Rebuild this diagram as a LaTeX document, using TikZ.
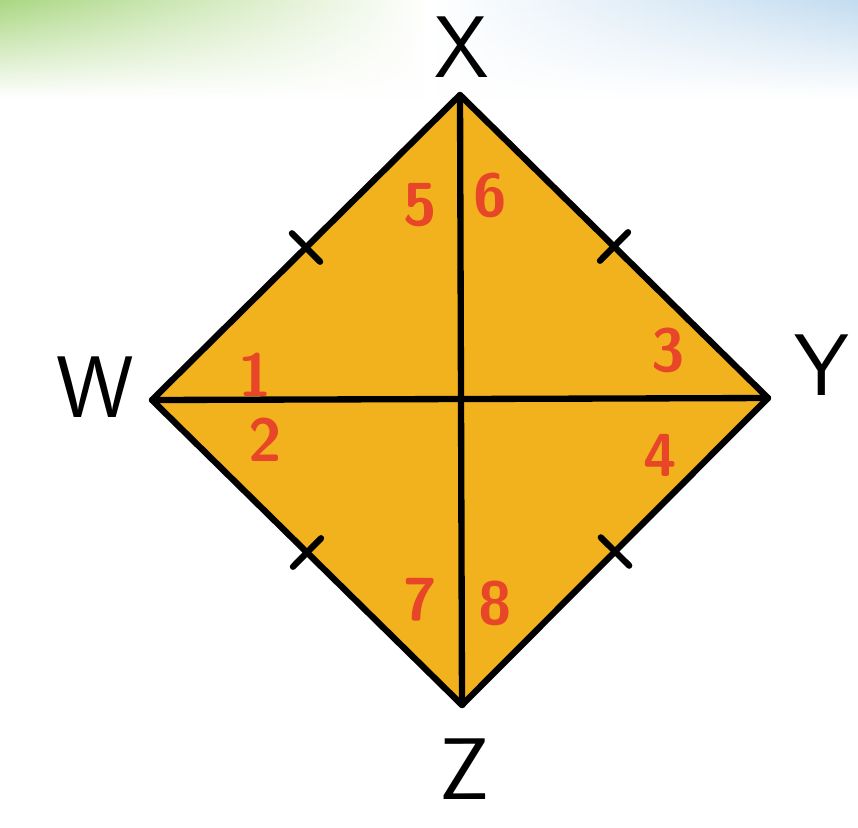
\documentclass[tikz,border=0pt]{standalone}
\usepackage{tikz}
\usetikzlibrary{calc,fadings}
\definecolor{kite}{RGB}{242,178,30}
\definecolor{mark}{RGB}{232,70,40}
\definecolor{leaf}{RGB}{170,215,130}
\definecolor{sky}{RGB}{195,220,240}

\begin{document}
\begin{tikzpicture}[edge/.style = {line width=1.8pt, line join=round, line cap=round}, num/.style = {text=mark, font=\sffamily\bfseries\LARGE}, vtx/.style = {font=\sffamily\Huge}]
\useasboundingbox (0,0) rectangle (8.58,8.27);
\fill[white] (0,0) rectangle (8.58,8.27);
\shade[left color=leaf, right color=sky, middle color=white, path fading=south] (0,7.3) rectangle (8.58,8.27);
\coordinate (W) at (1.52,4.27); \coordinate (X) at (4.60,7.32); \coordinate (Y) at (7.68,4.29); \coordinate (Z) at (4.62,1.22);
\fill[kite] (W) -- (X) -- (Y) -- (Z) -- cycle;
\draw[edge] (W) -- (X) -- (Y) -- (Z) -- cycle; \draw[edge] (W) -- (Y); \draw[edge] (X) -- (Z);
\coordinate (m1) at ($(W)!0.5!(X)$); \coordinate (m2) at ($(X)!0.5!(Y)$); \coordinate (m3) at ($(Z)!0.5!(Y)$); \coordinate (m4) at ($(W)!0.5!(Z)$);
\draw[edge] ($(m1)!0.2cm!90:(X)$) -- ($(m1)!0.2cm!-90:(X)$); \draw[edge] ($(m2)!0.2cm!90:(Y)$) -- ($(m2)!0.2cm!-90:(Y)$);
\draw[edge] ($(m3)!0.2cm!90:(Y)$) -- ($(m3)!0.2cm!-90:(Y)$); \draw[edge] ($(m4)!0.2cm!90:(Z)$) -- ($(m4)!0.2cm!-90:(Z)$);
\node[vtx](w) at (0.95,4.40) {W}; \node[vtx](x) at (4.62,7.80) {X}; \node[vtx](y) at (8.22,4.62) {Y}; \node[vtx](z) at (4.65,0.58) {Z};
\node[num](1) at (2.55,4.52) {1}; \node[num](2) at (2.65,3.87) {2}; \node[num](3) at (6.68,4.77) {3}; \node[num](4) at (6.60,3.72) {4};
\node[num](5) at (4.20,6.22) {5}; \node[num](6) at (4.90,6.32) {6}; \node[num](7) at (4.20,2.27) {7}; \node[num](8) at (4.95,2.24) {8};
\end{tikzpicture}
\end{document}
